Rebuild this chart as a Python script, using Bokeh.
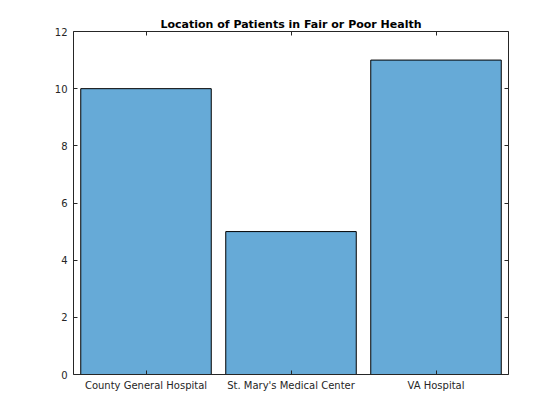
from bokeh.plotting import figure
from bokeh.models import FixedTicker, LinearAxis, Range1d, ColumnDataSource
from bokeh.embed import file_html
from bokeh.resources import INLINE

hospitals = ["County General Hospital", "St. Mary's Medical Center", "VA Hospital"]
counts = [10, 5, 11]
positions = [1, 2, 3]
y_ticks = [0, 2, 4, 6, 8, 10, 12]

src = ColumnDataSource(dict(x=positions, top=counts))

p = figure(width=552, height=412, output_backend="svg", toolbar_location=None,
           x_range=Range1d(0.5, 3.5), y_range=Range1d(0, 12),
           min_border_left=73, min_border_right=44, min_border_top=31, min_border_bottom=38,
           x_axis_location=None, y_axis_location=None)

p.title.text = "Location of Patients in Fair or Poor Health"
p.title.align = "center"
p.title.text_font = "DejaVu Sans"
p.title.text_font_size = "11px"
p.title.text_font_style = "bold"
p.title.text_color = "#000000"
p.title.offset = 0
p.title.standoff = 2

p.grid.visible = False
p.outline_line_color = None
p.background_fill_color = "white"
p.border_fill_color = "white"

p.vbar(x="x", top="top", bottom=0, width=0.9, source=src,
       fill_color="#66AAD7", line_color="#000000", line_width=1)

label_map = {pos: name for pos, name in zip(positions, hospitals)}

def style(ax, labels=True):
    ax.axis_line_color = "#262626"
    ax.axis_line_width = 1
    ax.major_tick_line_color = "#262626"
    ax.major_tick_in = 4
    ax.major_tick_out = 0
    ax.minor_tick_line_color = None
    ax.major_label_text_font = "DejaVu Sans"
    ax.major_label_text_font_size = "10px"
    ax.major_label_text_color = "#262626"
    if not labels:
        ax.major_label_text_font_size = "0px"
        ax.major_label_text_color = None

xb = LinearAxis(ticker=FixedTicker(ticks=positions), major_label_overrides=label_map)
style(xb)
xb.major_label_standoff = 5
p.add_layout(xb, "below")

xt = LinearAxis(ticker=FixedTicker(ticks=positions))
style(xt, labels=False)
p.add_layout(xt, "above")

yl = LinearAxis(ticker=FixedTicker(ticks=y_ticks))
style(yl)
yl.major_label_standoff = 6
p.add_layout(yl, "left")

yr = LinearAxis(ticker=FixedTicker(ticks=y_ticks))
style(yr, labels=False)
p.add_layout(yr, "right")

open("out.html", "w").write(file_html(p, INLINE))
